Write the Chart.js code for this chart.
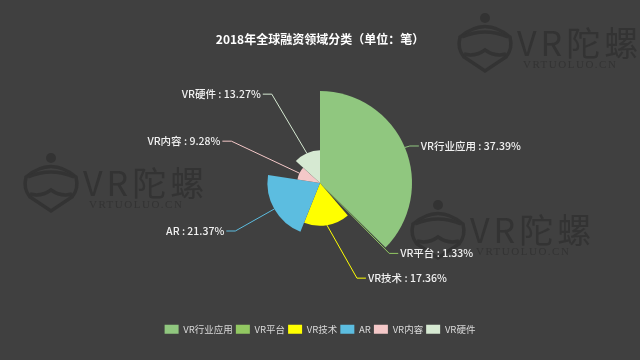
<!DOCTYPE html>
<html>
<head>
<meta charset="utf-8">
<style>
  html, body { margin: 0; background: #404040; }
  canvas { display: block; }
</style>
<script src="https://cdn.jsdelivr.net/npm/chart.js@4/dist/chart.umd.min.js"></script>
</head>
<body>
<canvas id="financeChart" width="640" height="360"></canvas>
<script>
const categories = ["VR行业应用", "VR平台", "VR技术", "AR", "VR内容", "VR硬件"];
const shares = [37.39, 1.33, 17.36, 21.37, 9.28, 13.27];
const sliceColors = ["#90c77f", "#92c862", "#ffff00", "#5cbde0", "#f4c8c8", "#d6e9d2"];
const titleText = "2018年全球融资领域分类（单位：笔）";

// leader elbow relative to the point where the leader leaves its slice
const leaderOffsets = [[5, -1.5], [67, 68], [30, 53], [-39, 22], [-68, -32], [-35, -59]];
const leaderTail = 9;
const fontName = "'Noto Sans CJK SC', 'Noto Sans', sans-serif";

// faint logo behind the chart
function drawLogo(ctx, left, top) {
  ctx.save();
  ctx.translate(left, top);
  ctx.strokeStyle = "#333333";
  ctx.fillStyle = "#333333";
  ctx.lineWidth = 3.5;

  ctx.beginPath();
  ctx.arc(28, 5, 5, 0, Math.PI * 2);
  ctx.fill();

  ctx.beginPath();
  ctx.moveTo(3, 24);
  ctx.quadraticCurveTo(28, 3, 53, 24);
  ctx.quadraticCurveTo(56, 36, 49, 44);
  ctx.lineTo(28, 58);
  ctx.lineTo(7, 44);
  ctx.quadraticCurveTo(0, 36, 3, 24);
  ctx.closePath();
  ctx.stroke();

  ctx.beginPath();
  ctx.moveTo(5, 24);
  ctx.quadraticCurveTo(28, 14, 51, 24);
  ctx.moveTo(7, 41);
  ctx.quadraticCurveTo(18, 44, 28, 37);
  ctx.quadraticCurveTo(38, 44, 49, 41);
  ctx.stroke();

  ctx.textAlign = "left";
  ctx.textBaseline = "alphabetic";
  ctx.font = "400 34px " + fontName;
  ctx.letterSpacing = "4px";
  ctx.fillText("VR陀螺", 60, 43);
  ctx.font = "11px 'Liberation Serif', serif";
  ctx.letterSpacing = "1.5px";
  ctx.fillText("VRTUOLUO.CN", 66, 55);
  ctx.restore();
}

const logoPlugin = {
  id: "logo",
  beforeDraw(chart) {
    const ctx = chart.ctx;
    drawLogo(ctx, 457, 13);
    drawLogo(ctx, 23, 153);
    drawLogo(ctx, 410, 200);
  }
};

// leader lines and outside labels, placed from each slice's own geometry
const sliceLabelPlugin = {
  id: "sliceLabels",
  afterDatasetsDraw(chart) {
    const ctx = chart.ctx;
    const arcs = chart.getDatasetMeta(0).data;
    arcs.forEach((arc, i) => {
      const mid = (arc.startAngle + arc.endAngle) / 2;
      const sx = arc.x + Math.cos(mid) * arc.outerRadius;
      const sy = arc.y + Math.sin(mid) * arc.outerRadius;
      const ex = sx + leaderOffsets[i][0];
      const ey = sy + leaderOffsets[i][1];
      const dir = Math.cos(mid) >= 0 ? 1 : -1;
      const tx = ex + dir * leaderTail;

      ctx.save();
      ctx.strokeStyle = sliceColors[i];
      ctx.lineWidth = 1;
      ctx.beginPath();
      ctx.moveTo(sx, sy);
      ctx.lineTo(ex, ey);
      ctx.lineTo(tx, ey);
      ctx.stroke();

      ctx.fillStyle = "#f0f0f0";
      ctx.font = "500 10.5px " + fontName;
      ctx.textBaseline = "middle";
      ctx.textAlign = dir > 0 ? "left" : "right";
      ctx.fillText(categories[i] + " : " + shares[i].toFixed(2) + "%", tx + dir * 2, ey);
      ctx.restore();
    });
  }
};

new Chart("financeChart", {
  type: "polarArea",
  data: {
    labels: categories,
    datasets: [{
      data: shares,
      backgroundColor: sliceColors,
      borderWidth: 0,
      angle: ctx => shares[ctx.dataIndex] * 3.6
    }]
  },
  options: {
    responsive: false,
    animation: false,
    scales: {
      r: { display: false, min: 0, max: 37.39 }
    },
    plugins: {
      title: {
        display: true,
        text: titleText,
        color: "#ffffff",
        font: { family: fontName, size: 12, weight: "bold" },
        padding: { top: 32, bottom: 45 }
      },
      legend: {
        position: "bottom",
        // empty legend title only opens the gap between pie and legend row
        title: { display: true, text: " ", font: { size: 1 }, padding: { top: 44, bottom: 0 } },
        labels: {
          color: "#d8d8d8",
          font: { family: fontName, size: 9.5 },
          boxWidth: 14,
          boxHeight: 9,
          useBorderRadius: true,
          borderRadius: 2,
          padding: 3
        }
      },
      tooltip: { enabled: false }
    },
    layout: { padding: { bottom: 16 } }
  },
  plugins: [logoPlugin, sliceLabelPlugin]
});
</script>
</body>
</html>
